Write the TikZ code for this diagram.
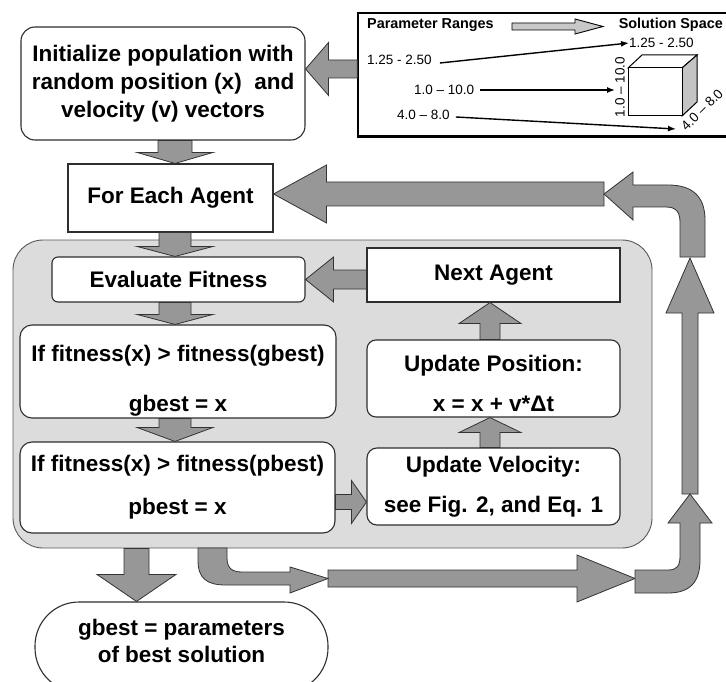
\documentclass[tikz,border=0pt]{standalone}
\usepackage{fontspec}
\setmainfont{Liberation Sans}
\usetikzlibrary{calc,arrows.meta}
\definecolor{arrowgray}{HTML}{979797}
\definecolor{arrowline}{HTML}{333333}
\definecolor{boxline}{HTML}{2E2E2E}
\definecolor{panel}{HTML}{DCDCDC}
\definecolor{cubegray}{HTML}{C4C4C4}
\definecolor{hollowgray}{HTML}{C8C8C8}
\newcommand\fs[2]{\fontsize{#1}{#2}\selectfont}
% horizontal block arrow: [style]{start}{tip}{half shaft}{half head}{signed head length}
\newcommand\bkh[6][barrow]{\filldraw[#1] let \p1=#2, \p2=#3 in
 (\x1,{\y2+#4}) -- ({\x2+(#6)},{\y2+#4}) -- ({\x2+(#6)},{\y2+#5}) -- (\x2,\y2) -- ({\x2+(#6)},{\y2-#5}) -- ({\x2+(#6)},{\y2-#4}) -- (\x1,{\y2-#4}) -- cycle;}
% vertical block arrow: {start}{tip}{half shaft}{half head}{signed head length}
\newcommand\bkv[5]{\filldraw[barrow] let \p1=#1, \p2=#2 in
 ({\x2-#3},\y1) -- ({\x2-#3},{\y2+(#5)}) -- ({\x2-#4},{\y2+(#5)}) -- (\x2,\y2) -- ({\x2+#4},{\y2+(#5)}) -- ({\x2+#3},{\y2+(#5)}) -- ({\x2+#3},\y1) -- cycle;}
\tikzset{
  box/.style={draw=boxline, line width=1.1pt, fill=white, inner sep=0pt, align=center, text=black},
  rbox/.style={box, rounded corners=#1},
  rbox/.default=10pt,
  barrow/.style={fill=arrowgray, draw=arrowline, line width=0.8pt, line join=miter},
  hollow/.style={fill=hollowgray, draw=black, line width=0.9pt},
  inlab/.style={inner sep=0pt, text=black, font=\fs{13.5}{16}},
  tharrow/.style={line width=1.4pt, -{Latex[length=8pt,width=6pt]}},
}
\begin{document}
\begin{tikzpicture}[x=1pt,y=-1pt]
\useasboundingbox (0,0) rectangle (726,682);
\fill[white] (0,0) rectangle (726,682);

% helper coordinates
\coordinate (rowI) at (0,69);
\coordinate (colL) at (175,0);
\coordinate (colR) at (490,0);
\coordinate (rowV) at (0,502);
\coordinate (colB) at (136.5,0);
\coordinate (c1) at (328,578.5);
\coordinate (c2) at (635,578.5);
\coordinate (c3) at (690,494);
\coordinate (c4) at (690,258);
\coordinate (c5) at (604,194);

% big panel
\node[draw=black!65, line width=0.9pt, fill=panel, rounded corners=30pt, minimum width=639pt, minimum height=308pt, inner sep=0pt] (cont) at (332.5,394) {};

% inset
\node[draw=black, line width=1.3pt, fill=white, minimum width=370pt, minimum height=123pt, inner sep=0pt] (inset) at (543,74.5) {};
\draw[line width=2.6pt] (inset.south west) -- (inset.south east);

% boxes
\node[rbox=14pt, minimum width=284pt, minimum height=113pt, font=\bfseries\fs{22.5}{28}] (init) at (163,83.5) {Initialize population with\\random position (x)\ \ and\\velocity (v) vectors};
\node[box, minimum width=205pt, minimum height=68pt, font=\bfseries\fs{22.5}{27}] (each) at (170.5,198) {For Each Agent};
\node[rbox=6pt, minimum width=253pt, minimum height=45pt, font=\bfseries\fs{22.5}{27}] (eval) at (178.5,279.5) {Evaluate Fitness};
\node[box, minimum width=253pt, minimum height=54pt, font=\bfseries\fs{22.5}{27}] (next) at (493.5,275) {Next Agent};
\node[rbox=12pt, minimum width=316pt, minimum height=93pt, font=\bfseries\fs{22.5}{27}] (gb) at (178,371.5) {\rule{0pt}{34pt}If fitness(x) > fitness(gbest)\\[23pt]gbest = x};
\node[rbox=12pt, minimum width=315pt, minimum height=91pt, font=\bfseries\fs{22.5}{27}] (pb) at (177.5,487.5) {If fitness(x) > fitness(pbest)\\[16pt]pbest = x};
\node[rbox=9pt, minimum width=253pt, minimum height=77pt, font=\bfseries\fs{22.5}{27}] (upos) at (493.5,378.5) {\rule{0pt}{26pt}Update Position:\\[13pt]x = x + v*Δt};
\node[rbox=10pt, minimum width=253pt, minimum height=77pt, font=\bfseries\fs{22.5}{27}] (uvel) at (493.5,486.5) {Update Velocity:\\[13pt]see Fig. 2, and Eq. 1};
\node[rbox=44pt, minimum width=293pt, minimum height=90pt] (oval) at (181.5,647) {};
\node[inner sep=0pt, align=center, font=\bfseries\fs{22.5}{27}] (ovalt) at (181.5,641) {gbest = parameters\\of best solution};

% straight block arrows
\bkh{(inset.west)}{(init.east |- rowI)}{9pt}{26.5pt}{23pt}
\bkv{(init.south -| colL)}{(each.north -| colL)}{17pt}{38pt}{11pt}
\bkv{(each.south -| colL)}{(eval.north -| colL)}{16pt}{38pt}{10pt}
\bkv{(eval.south -| colL)}{(gb.north -| colL)}{16pt}{38pt}{10pt}
\bkv{(gb.south -| colL)}{(pb.north -| colL)}{16pt}{38pt}{14pt}
\bkh{(next.west)}{(eval.east)}{9.5pt}{22.5pt}{28pt}
\bkv{(uvel.north -| colR)}{(upos.south -| colR)}{10pt}{31pt}{-15pt}
\bkv{(upos.north -| colR)}{(next.south -| colR)}{10pt}{31pt}{-21pt}
\bkh{(pb.east |- rowV)}{(uvel.west |- rowV)}{7.5pt}{21.5pt}{-15pt}
\bkv{(cont.south -| colB)}{(oval.north -| colB)}{12.5pt}{39.5pt}{27pt}
\bkh{(c1)}{(c2)}{8.5pt}{23.5pt}{-58pt}
\bkv{(c3)}{(c4)}{8pt}{24pt}{-55pt}
\bkh{(c5)}{(each.east |- c5)}{12pt}{29pt}{53pt}

% curved block arrows
\filldraw[barrow] (198,548) -- (198,560) .. controls (198,578) and (206,585) .. (226,585) -- (290,585) -- (290,593) -- (c1) -- (290,567) -- (290,572) -- (242,572) .. controls (232,572) and (227,568) .. (227,558) -- (227,548) -- cycle;
\filldraw[barrow] (635,570) -- (668,570) .. controls (677,570) and (680,566) .. (680,556) -- (680,523) -- (668,523) -- (c3) -- (712,523) -- (700,523) -- (700,560) .. controls (700,582) and (690,593) .. (668,593) -- (635,593) -- cycle;
\filldraw[barrow] (680,257) -- (680,222) .. controls (680,212) and (676,207) .. (666,207) -- (633,207) -- (633,220) -- (c5) -- (633,172) -- (633,185) -- (668,185) .. controls (692,185) and (705,196) .. (705,220) -- (705,257) -- cycle;

% inset contents
\node[inlab, font=\bfseries\fs{14.4}{17}, anchor=west] (pr) at (367,25) {Parameter Ranges};
\node[inlab, font=\bfseries\fs{14.4}{17}, anchor=east] (ss) at (723,25) {Solution Space};
\coordinate (ha1) at (512,26.5);
\coordinate (ha2) at (603,26.5);
\bkh[hollow]{(ha1)}{(ha2)}{3.5pt}{7.5pt}{-28pt}

\node[inlab, anchor=west] (r1) at (367,60) {1.25 - 2.50};
\node[inlab, anchor=west] (r2) at (414,90) {1.0 – 10.0};
\node[inlab, anchor=west] (r3) at (397,115) {4.0 – 8.0};
\node[inlab, anchor=west] (s1) at (629,43) {1.25 - 2.50};
\node[inlab, rotate=90] (s2) at (620,87) {1.0 – 10.0};
\node[inlab, rotate=45] (s3) at (702,110) {4.0 – 8.0};
\coordinate (t3) at (676,129);

% cube
\filldraw[fill=white, draw=black, line width=1pt] (628,68) -- (642,55) -- (697,55) -- (682,68) -- cycle;
\filldraw[fill=cubegray, draw=black, line width=1pt] (682,68) -- (697,55) -- (697,102) -- (682,116) -- cycle;
\filldraw[fill=white, draw=black, line width=1pt] (628,68) rectangle (682,116);

\draw[tharrow] ($(r1.east)+(8,3)$) -- (s1.west);
\draw[tharrow] ($(r2.east)+(6,0)$) -- (s2.north |- r2.east);
\draw[tharrow] ($(r3.east)+(6,2)$) -- (t3);
\end{tikzpicture}
\end{document}
